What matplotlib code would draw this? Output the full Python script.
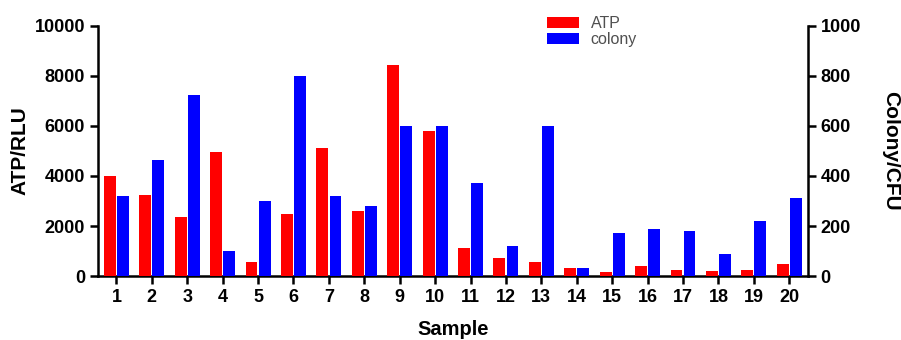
import numpy as np
import matplotlib.pyplot as plt
from matplotlib.patches import Patch

plt.rcParams['font.family'] = ['Liberation Sans', 'DejaVu Sans']

# === Data ===
samples = list(range(1, 21))
atp = [4000, 3250, 2350, 4950, 550, 2500, 5100, 2600, 8450, 5800,
       1130, 730, 570, 330, 170, 400, 250, 210, 250, 480]
colony = [322, 465, 722, 102, 302, 800, 322, 282, 600, 600,
          370, 122, 600, 33, 174, 189, 180, 88, 222, 314]

# === Figure ===
fig = plt.figure(figsize=(9.01, 3.4), dpi=100)
ax = fig.add_axes([0.1084, 0.188, 0.7884, 0.736])
ax2 = ax.twinx()

x = np.array(samples)
w = 0.335
ax.bar(x - 0.185, atp, width=w, color='#ff0000', zorder=3)
ax2.bar(x + 0.185, colony, width=w, color='#0000ff', zorder=3)

ax.set_xlim(0.47, 20.53)
ax.set_ylim(0, 10000)
ax2.set_ylim(0, 1000)
ax.set_yticks([0, 2000, 4000, 6000, 8000, 10000])
ax2.set_yticks([0, 200, 400, 600, 800, 1000])
ax.set_xticks(samples)

for a in (ax, ax2):
    a.spines['top'].set_visible(False)
    for s in a.spines.values():
        s.set_linewidth(1.8)
    a.tick_params(axis='both', length=6, width=1.8, labelsize=13, pad=3)
    for lab in a.get_xticklabels() + a.get_yticklabels():
        lab.set_fontweight('bold')
ax.spines['right'].set_visible(False)
ax2.spines['left'].set_visible(False)
ax2.spines['bottom'].set_visible(False)

# axis titles
ax.set_ylabel('ATP/RLU', fontsize=15, fontweight='bold', va='center', ha='center')
ax.yaxis.set_label_coords(-0.109, 0.5)
ax2.set_ylabel('Colony/CFU', fontsize=15, fontweight='bold', rotation=270,
               va='center', ha='center')
ax2.yaxis.set_label_coords(1.116, 0.5)
ax.set_xlabel('Sample', fontsize=14.5, fontweight='bold', va='center', ha='center')
ax.xaxis.set_label_coords(0.5, -0.212)

handles = [Patch(facecolor='#ff0000', label='ATP'), Patch(facecolor='#0000ff', label='colony')]
leg = fig.legend(handles=handles, loc='upper left', bbox_to_anchor=(0.607, 0.953),
                 frameon=False, fontsize=11.5, handlelength=2.0, handleheight=0.65,
                 labelspacing=0.07, handletextpad=0.75, borderpad=0.0, borderaxespad=0.0)
for t in leg.get_texts():
    t.set_color('#505050')

fig.savefig('out.png', dpi=100)
